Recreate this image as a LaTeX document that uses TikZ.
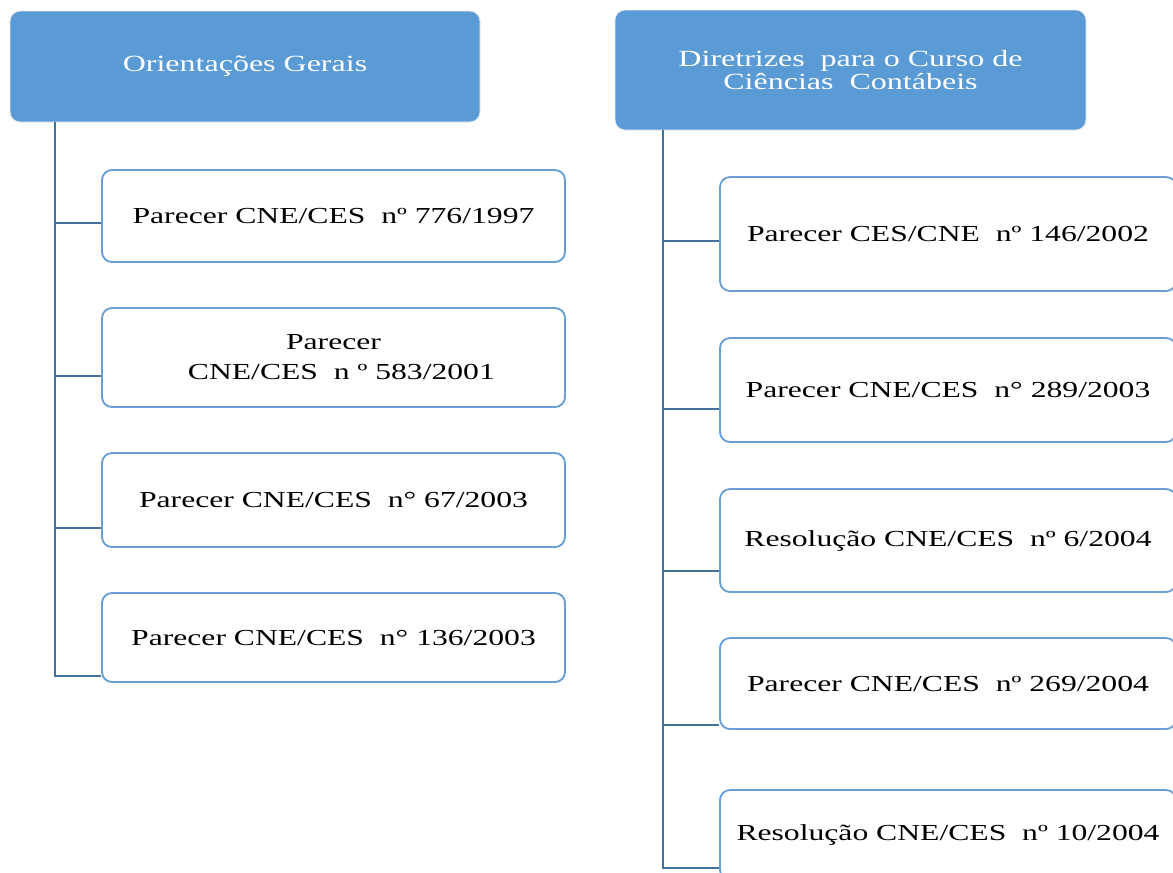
\documentclass[tikz,border=0pt]{standalone}
\usepackage{fontspec}
\setmainfont[FakeStretch=1.38]{Liberation Serif}
\definecolor{headblue}{HTML}{5B9BD5}
\definecolor{boxblue}{HTML}{6A9FD4}
\definecolor{linkblue}{HTML}{41719C}
\tikzset{
  headbox/.style={draw=white!85!gray, line width=0.6pt, fill=headblue, rounded corners=7.5pt,
    text=white, align=center, inner sep=0pt, font=\fontsize{17.4}{16.8}\selectfont},
  docbox/.style={draw=boxblue, line width=1.4pt, fill=white, rounded corners=7.5pt,
    align=center, inner sep=0pt, font=\fontsize{17.2}{22.5}\selectfont},
  conn/.style={draw=linkblue, line width=1.8pt}
}
\begin{document}
\begin{tikzpicture}[x=0.75pt,y=0.75pt,yscale=-1,xscale=1]
\useasboundingbox (0,0) rectangle (1173,872);

% Headers
\node[headbox, minimum width=352.5pt, minimum height=83.25pt] (h1) at (245,66.5) {Orientações Gerais};
\node[headbox, minimum width=353.25pt, minimum height=90pt] (h2) at (850.5,70) {Diretrizes\ \ para o Curso de\\ Ciências\ \ Contábeis};

% Orientacoes gerais
\node[docbox, minimum width=347.25pt, minimum height=69pt] (b1) at (333.5,216) {Parecer CNE/CES\ \ nº 776/1997};
\node[docbox, minimum width=347.25pt, minimum height=74.25pt] (b2) at (333.5,357.5) {Parecer\\ \ \ CNE/CES\ \ n º 583/2001};
\node[docbox, minimum width=347.25pt, minimum height=70.5pt] (b3) at (333.5,500) {Parecer CNE/CES\ \ n° 67/2003};
\node[docbox, minimum width=347.25pt, minimum height=66.75pt] (b4) at (333.5,637.5) {Parecer CNE/CES\ \ n° 136/2003};

% Diretrizes
\node[docbox, minimum width=342pt, minimum height=85.5pt] (r1) at (948,234) {Parecer CES/CNE\ \ nº 146/2002};
\node[docbox, minimum width=342pt, minimum height=78pt] (r2) at (948,390) {Parecer CNE/CES\ \ n° 289/2003};
\node[docbox, minimum width=342pt, minimum height=77.25pt] (r3) at (948,540.5) {Resolução CNE/CES\ \ nº 6/2004};
\node[docbox, minimum width=342pt, minimum height=68.25pt] (r4) at (948,683.5) {Parecer CNE/CES\ \ nº 269/2004};
\node[docbox, minimum width=342pt, minimum height=67.5pt] (r5) at (948,835) {Resolução CNE/CES\ \ nº 10/2004};

% Connectors
\coordinate (lt) at (h1.south west -| 55,0);
\foreach \n/\y in {1/223,2/376,3/528,4/676}
  \coordinate (j\n) at (55,\y);
\draw[conn] (lt) -- (j4) -- (j4 -| b4.west);
\foreach \n in {1,2,3}
  \draw[conn] (j\n) -- (j\n -| b\n.west);

\coordinate (rt) at (h2.south west -| 663,0);
\foreach \n/\y in {1/241,2/409,3/571,4/725,5/868}
  \coordinate (k\n) at (663,\y);
\draw[conn] (rt) -- (k5) -- (k5 -| r5.west);
\foreach \n in {1,2,3,4}
  \draw[conn] (k\n) -- (k\n -| r\n.west);
\end{tikzpicture}
\end{document}
